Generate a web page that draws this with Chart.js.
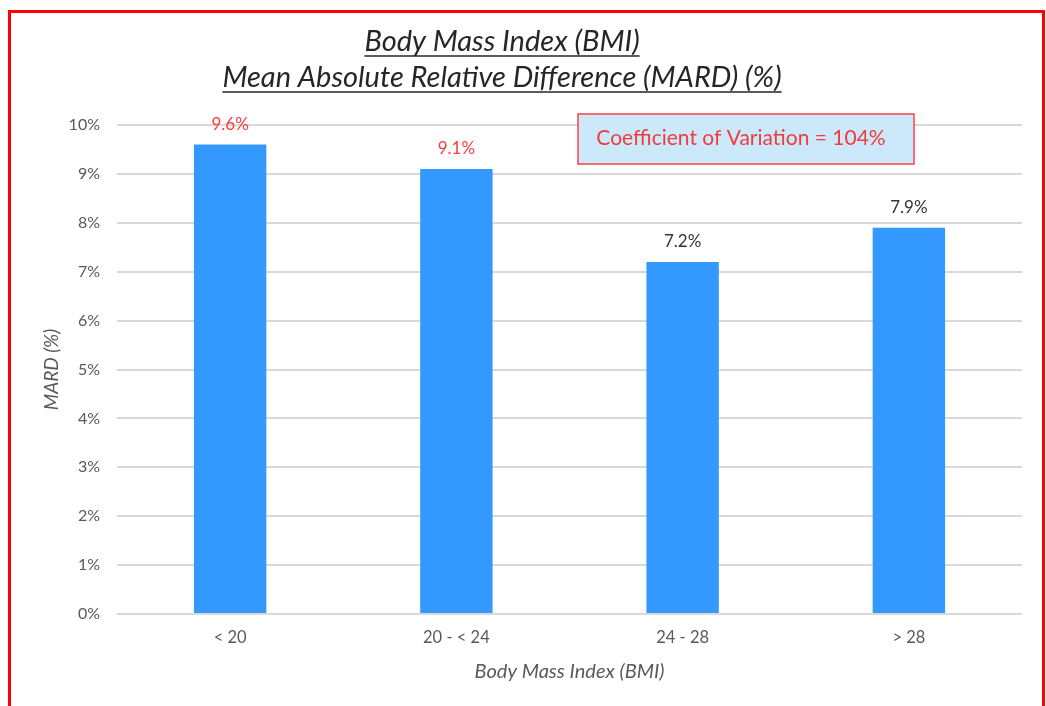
<!DOCTYPE html>
<html>
<head>
<meta charset="utf-8">
<script src="https://cdn.jsdelivr.net/npm/chart.js@4.4.1/dist/chart.umd.min.js"></script>
<style>
	html, body { margin: 0; padding: 0; background: #fff; }
	#wrap { position: relative; width: 1046px; height: 706px; overflow: hidden; }
	#frame { position: absolute; left: 8px; top: 10px; width: 1031px; height: 720px; border: 3px solid #ff0000; }
	#canvas { position: absolute; left: 0; top: 0; }
</style>
</head>
<body>
<div id="wrap">
	<div id="frame"></div>
	<canvas id="canvas" width="1046" height="706"></canvas>
</div>
<script>
var categories = ['< 20', '20 - < 24', '24 - 28', '> 28'];
var mardValues = [9.6, 9.1, 7.2, 7.9];
var yTicks = [0, 1, 2, 3, 4, 5, 6, 7, 8, 9, 10];
var titleLines = ['Body Mass Index (BMI)', 'Mean Absolute Relative Difference (MARD) (%)'];
var noteText = 'Coefficient of Variation = 104%';

var labelColors = ['#ff3b3b', '#ff3b3b', '#333340', '#333340'];
var fontFamily = 'Lato, "Open Sans", sans-serif';

// title lines with underline
var titlePlugin = {
	id: 'titleLines',
	afterDraw: function(chart) {
		var ctx = chart.ctx;
		ctx.save();
		ctx.font = 'italic 29px ' + fontFamily;
		ctx.fillStyle = '#262626';
		ctx.strokeStyle = '#262626';
		ctx.lineWidth = 1.5;
		ctx.textAlign = 'center';
		ctx.textBaseline = 'alphabetic';
		var ys = [51, 87];
		for (var i = 0; i < titleLines.length; i++) {
			ctx.fillText(titleLines[i], 502, ys[i]);
			var w = ctx.measureText(titleLines[i]).width;
			ctx.beginPath();
			ctx.moveTo(502 - w / 2, ys[i] + 5);
			ctx.lineTo(502 + w / 2, ys[i] + 5);
			ctx.stroke();
		}
		ctx.restore();
	}
};

// text box in the upper right
var notePlugin = {
	id: 'noteBox',
	afterDraw: function(chart) {
		var ctx = chart.ctx;
		ctx.save();
		ctx.fillStyle = '#cce9fb';
		ctx.fillRect(578, 114, 336, 50);
		ctx.strokeStyle = '#ff4040';
		ctx.lineWidth = 1.5;
		ctx.strokeRect(578, 114, 336, 50);
		ctx.font = '21px ' + fontFamily;
		ctx.fillStyle = '#f03c3c';
		ctx.textAlign = 'center';
		ctx.textBaseline = 'middle';
		ctx.fillText(noteText, 741, 138);
		ctx.restore();
	}
};

// value labels above the bars
var valueLabels = {
	id: 'valueLabels',
	afterDatasetsDraw: function(chart) {
		var ctx = chart.ctx;
		var meta = chart.getDatasetMeta(0);
		ctx.save();
		ctx.font = '17px ' + fontFamily;
		ctx.textAlign = 'center';
		ctx.textBaseline = 'middle';
		meta.data.forEach(function(bar, i) {
			ctx.fillStyle = labelColors[i];
			ctx.fillText(mardValues[i].toFixed(1) + '%', bar.x, bar.y - 20);
		});
		ctx.restore();
	}
};

var config = {
	type: 'bar',
	data: {
		labels: categories,
		datasets: [{
			label: 'MARD',
			data: mardValues,
			backgroundColor: '#3399ff',
			borderWidth: 0,
			barPercentage: 0.32,
			categoryPercentage: 1
		}]
	},
	options: {
		responsive: false,
		animation: false,
		layout: {
			padding: { top: 125, right: 24, bottom: 0, left: 0 }
		},
		plugins: {
			legend: { display: false },
			title: { display: false },
			tooltip: { enabled: false }
		},
		scales: {
			x: {
				grid: { display: false, drawTicks: false },
				border: { display: false },
				ticks: {
					color: '#595959',
					font: { family: fontFamily, size: 16.5 },
					padding: 14,
					maxRotation: 0
				},
				title: {
					display: true,
					text: 'Body Mass Index (BMI)',
					color: '#595959',
					font: { family: fontFamily, size: 20, style: 'italic' },
					padding: { top: 0, bottom: 22 }
				},
				afterFit: function(scale) { scale.height = 92; }
			},
			y: {
				min: 0,
				max: 10,
				afterBuildTicks: function(scale) {
					scale.ticks = yTicks.map(function(v) { return { value: v }; });
				},
				grid: { color: '#d9d9d9', lineWidth: 2, drawTicks: false },
				border: { display: false },
				ticks: {
					color: '#595959',
					font: { family: fontFamily, size: 16 },
					padding: 17,
					callback: function(v) { return v + '%'; }
				},
				title: {
					display: true,
					text: 'MARD (%)',
					color: '#595959',
					font: { family: fontFamily, size: 19, style: 'italic' },
					padding: { top: 40, bottom: 0 }
				},
				afterFit: function(scale) { scale.width = 117; }
			}
		}
	},
	plugins: [valueLabels, notePlugin, titlePlugin]
};

window.onload = function() {
	window.myBar = new Chart(document.getElementById('canvas'), config);
};
</script>
</body>
</html>
